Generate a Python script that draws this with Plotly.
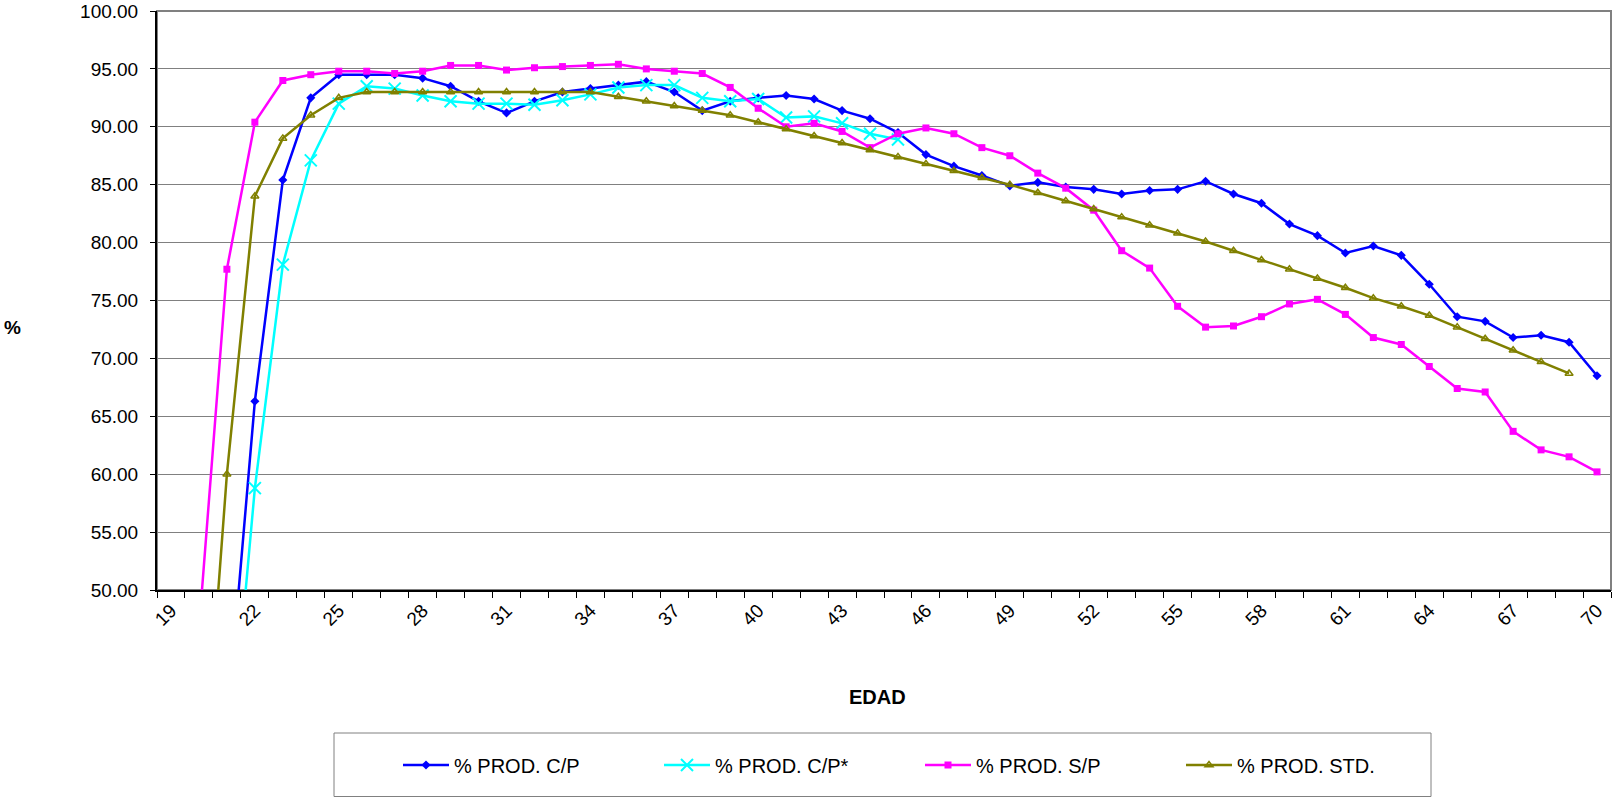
import plotly.graph_objects as go

ages = list(range(19, 71))

prod_cp = [None, None, 38.1, 66.3, 85.4, 92.5, 94.5, 94.5, 94.5, 94.2,
           93.5, 92.2, 91.2, 92.2, 93.0, 93.3, 93.6, 93.9, 93.0, 91.4,
           92.2, 92.5, 92.7, 92.4, 91.4, 90.7, 89.5, 87.6, 86.6, 85.8,
           84.9, 85.2, 84.8, 84.6, 84.2, 84.5, 84.6, 85.3, 84.2, 83.4,
           81.6, 80.6, 79.1, 79.7, 78.9, 76.4, 73.6, 73.2, 71.8, 72.0,
           71.4, 68.5]

prod_cp_star = [None, None, 32.0, 58.8, 78.1, 87.1, 92.0, 93.5, 93.3, 92.7,
                92.2, 92.0, 92.0, 91.9, 92.3, 92.8, 93.4, 93.6, 93.6, 92.5,
                92.2, 92.4, 90.8, 90.9, 90.3, 89.4, 88.9, None, None, None,
                None, None, None, None, None, None, None, None, None, None,
                None, None, None, None, None, None, None, None, None, None,
                None, None]

prod_sp = [None, 46.6, 77.7, 90.4, 94.0, 94.5, 94.8, 94.8, 94.6, 94.8,
           95.3, 95.3, 94.9, 95.1, 95.2, 95.3, 95.4, 95.0, 94.8, 94.6,
           93.4, 91.6, 90.0, 90.3, 89.6, 88.2, 89.4, 89.9, 89.4, 88.2,
           87.5, 86.0, 84.7, 82.8, 79.3, 77.8, 74.5, 72.7, 72.8, 73.6,
           74.7, 75.1, 73.8, 71.8, 71.2, 69.3, 67.4, 67.1, 63.7, 62.1,
           61.5, 60.2]

prod_std = [None, 27.5, 60.0, 84.0, 89.0, 91.0, 92.5, 93.0, 93.0, 93.0,
            93.0, 93.0, 93.0, 93.0, 93.0, 93.0, 92.6, 92.2, 91.8, 91.4,
            91.0, 90.4, 89.8, 89.2, 88.6, 88.0, 87.4, 86.8, 86.2, 85.6,
            85.0, 84.3, 83.6, 82.9, 82.2, 81.5, 80.8, 80.1, 79.3, 78.5,
            77.7, 76.9, 76.1, 75.2, 74.5, 73.7, 72.7, 71.7, 70.7, 69.7,
            68.7, None]

x_tick_labels = [str(a) for a in range(19, 71, 3)]
y_ticks = [50, 55, 60, 65, 70, 75, 80, 85, 90, 95, 100]

FONT = "Arial, Liberation Sans, sans-serif"

fig = go.Figure()

fig.add_trace(go.Scatter(
    x=ages, y=prod_cp, name="% PROD. C/P", mode="lines+markers",
    line=dict(color="#0000FF", width=2.5),
    marker=dict(symbol="diamond", size=7, color="#0000FF"),
))
fig.add_trace(go.Scatter(
    x=ages, y=prod_cp_star, name="% PROD. C/P*", mode="lines+markers",
    line=dict(color="#00FFFF", width=2.5),
    marker=dict(symbol="x-thin-open", size=12, color="#00FFFF",
                line=dict(color="#00FFFF", width=2)),
))
fig.add_trace(go.Scatter(
    x=ages, y=prod_sp, name="% PROD. S/P", mode="lines+markers",
    line=dict(color="#FF00FF", width=2.5),
    marker=dict(symbol="square", size=7, color="#FF00FF"),
))
fig.add_trace(go.Scatter(
    x=ages, y=prod_std, name="% PROD. STD.", mode="lines+markers",
    line=dict(color="#808000", width=2.5),
    marker=dict(symbol="triangle-up-open", size=7, color="#808000",
                line=dict(color="#808000", width=1.5)),
))

L, R, T, B = 157, 2, 11, 208
W, H = 1613, 798
pw = W - L - R
ph = H - T - B

def px(xp):
    return (xp - L) / pw

def py(yp):
    return (H - B - yp) / ph

fig.update_layout(
    width=W, height=H,
    margin=dict(l=L, r=R, t=T, b=B, pad=0),
    paper_bgcolor="white", plot_bgcolor="white",
    font=dict(family=FONT, size=19, color="black"),
    showlegend=True,
    legend=dict(
        orientation="h", x=px(920), xanchor="center", y=py(765), yanchor="middle",
        itemwidth=46, entrywidth=200, entrywidthmode="pixels",
        font=dict(family=FONT, size=20, color="black"),
        bgcolor="rgba(0,0,0,0)", borderwidth=0, itemclick=False,
    ),
    xaxis=dict(
        range=[18.5, 70.5],
        tickmode="array",
        tickvals=[int(t) for t in x_tick_labels],
        ticktext=x_tick_labels,
        tickangle=-45,
        ticks="",
        showgrid=False, zeroline=False,
        showline=True, linecolor="black", linewidth=2,
        minor=dict(ticks="outside", ticklen=6, tickcolor="black", tickwidth=1,
                   tickmode="array",
                   tickvals=[a - 0.5 for a in ages] + [ages[-1] + 0.5],
                   showgrid=False),
        tickfont=dict(family=FONT, size=19),
    ),
    yaxis=dict(
        range=[50, 100],
        tickmode="array", tickvals=y_ticks,
        ticktext=[f"{v:.2f}" for v in y_ticks],
        ticks="outside", ticklen=5, tickcolor="black",
        showgrid=True, gridcolor="#808080", gridwidth=1,
        zeroline=False,
        showline=True, linecolor="black", linewidth=2,
        ticklabelstandoff=8,
        tickfont=dict(family=FONT, size=19),
    ),
    shapes=[
        dict(type="rect", xref="paper", yref="paper", x0=0, x1=1, y0=0, y1=1,
             line=dict(color="#808080", width=2), layer="below"),
        dict(type="rect", xref="paper", yref="paper",
             x0=px(334), x1=px(1431), y0=py(796.5), y1=py(733),
             line=dict(color="#808080", width=1), layer="below"),
    ],
    annotations=[
        dict(text="<b>%</b>", xref="paper", yref="paper", x=px(12), y=py(327),
             xanchor="center", yanchor="middle", showarrow=False,
             font=dict(family=FONT, size=19)),
        dict(text="<b>EDAD</b>", xref="paper", yref="paper", x=px(877), y=py(697),
             xanchor="center", yanchor="middle", showarrow=False,
             font=dict(family=FONT, size=20)),
    ],
)

fig.write_html("out.html")
